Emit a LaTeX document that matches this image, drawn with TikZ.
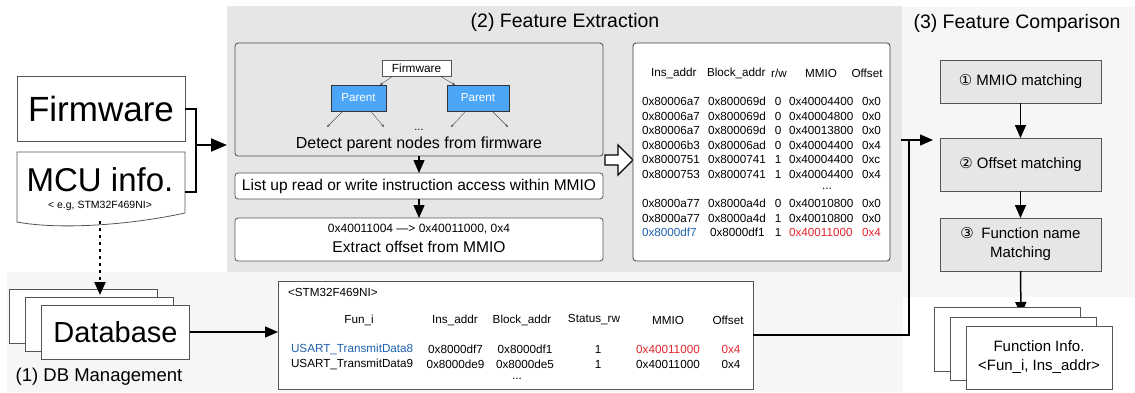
\documentclass[tikz,border=0pt]{standalone}
\usepackage{fontspec}
\setmainfont{Liberation Sans}
\newfontfamily\symfont{DejaVu Sans}
\usetikzlibrary{arrows.meta,calc}
\definecolor{feGray}{HTML}{E6E6E6}
\definecolor{lightBg}{HTML}{F6F6F6}
\definecolor{parentBlue}{HTML}{4CA6F7}
\definecolor{txtBlue}{HTML}{1F62AD}
\definecolor{txtRed}{HTML}{E3262D}
\definecolor{edgeGray}{HTML}{555555}
\newcommand\fsz[2]{\fontsize{#1}{#2}\selectfont}
\begin{document}
\begin{tikzpicture}[x=1pt,y=-1pt,
  region/.style={draw=none,inner sep=0,outer sep=0},
  box/.style={draw=edgeGray,line width=0.8pt,inner sep=0,outer sep=0},
  txt/.style={inner sep=0,outer sep=0},
  bigarrow/.style={line width=2pt,-{Triangle[length=16pt,width=13pt]}},
  midarrow/.style={line width=1.5pt,-{Triangle[length=13pt,width=11pt]}},
  tinyarrow/.style={line width=0.4pt,draw=black!70,-{Stealth[length=3pt,width=2.5pt]}},
  cell/.style={inner sep=0,outer sep=0,font=\fsz{11.7}{13}}]
\useasboundingbox (0,0) rectangle (1135,392);
% regions
\node[region,fill=lightBg,minimum width=896,minimum height=120] (dbr) at (455,332) {};
\node[region,fill=lightBg,minimum width=233,minimum height=290] (fcr) at (1018.5,152) {};
\node[region,fill=feGray,minimum width=675,minimum height=266] (fer) at (564.5,139) {};
% titles
\node[txt] (t2) at (565,22) {\fsz{19.5}{22}(2) Feature Extraction};
\node[txt] (t3) at (1017,23) {\fsz{19.5}{22}(3) Feature Comparison};
\node[txt] (t1) at (99,377) {\fsz{18.5}{21}(1) DB Management};
% left inputs
\node[box,fill=white,minimum width=168,minimum height=65] (fw) at (101,108.5) {\fsz{35}{40}Firmware};
\draw[draw=edgeGray,line width=0.8pt,fill=white] (17,152) -- (185,152) -- (185,213) .. controls (130,225) and (60,230) .. (17,222) -- cycle;
\node[txt] (mcu) at (100,180) {\fsz{33}{38}MCU info.};
\node[txt] (mcueg) at (100,206) {\fsz{10.5}{12}< e.g, STM32F469NI>};
\coordinate (mcuR) at (185,192);
\coordinate (brk) at (196,145);
\draw[line width=2pt,line join=miter] (fw.east) -| (brk) |- (mcuR);
\draw[bigarrow] (brk) -- (fer.west |- brk);
% database stack
\node[box,fill=white,minimum width=148,minimum height=54] (db3) at (83,316) {};
\node[box,fill=white,minimum width=148,minimum height=54] (db2) at (99.5,324) {};
\node[box,fill=white,minimum width=148,minimum height=54] (db1) at (115.5,332) {\fsz{29}{34}Database};
\coordinate (mcuB) at (100,221);
\coordinate (dbTip) at (100,295);
\draw[line width=2pt,dash pattern=on 3pt off 4pt,-{Triangle[length=13pt,width=11pt]}] (mcuB) -- (dbTip);
% DB table
\node[box,fill=white,minimum width=475,minimum height=108] (dbt) at (515.5,335) {};
\draw[midarrow] (db1.east) -- (dbt.west |- db1.east);
\node[cell,anchor=west] (dbtitle) at (288,292) {<STM32F469NI>};
\node[cell] (h1) at (359,320) {Fun\_i};
\node[cell] (h2) at (455,320) {Ins\_addr};
\node[cell] (h3) at (522,320) {Block\_addr};
\node[cell] (h4) at (594,320) {Status\_rw};
\node[cell] (h5) at (668,320) {MMIO};
\node[cell] (h6) at (728,320) {Offset};
\node[cell,anchor=west,text=txtBlue] (r1a) at (291,349) {USART\_TransmitData8};
\node[cell] (r1b) at (455.5,349) {0x8000df7};
\node[cell] (r1c) at (525,349) {0x8000df1};
\node[cell] (r1d) at (598,349) {1};
\node[cell,text=txtRed] (r1e) at (668,349) {0x40011000};
\node[cell,text=txtRed] (r1f) at (731,349) {0x4};
\node[cell,anchor=west] (r2a) at (291,364) {USART\_TransmitData9};
\node[cell] (r2b) at (455.5,364) {0x8000de9};
\node[cell] (r2c) at (525,364) {0x8000de5};
\node[cell] (r2d) at (598,364) {1};
\node[cell] (r2e) at (668,364) {0x40011000};
\node[cell] (r2f) at (731,364) {0x4};
\node[cell] (dbdots) at (517,379) {...};
% feature extraction boxes
\node[box,draw=black!70,fill=feGray,rounded corners=3pt,minimum width=368,minimum height=113] (b1) at (419,99.5) {};
\node[box,fill=white,minimum width=69,minimum height=16] (fws) at (416.5,68) {\fsz{11.8}{13}Firmware};
\node[box,draw=black!80,fill=parentBlue,text=white,minimum width=55,minimum height=26] (pl) at (358.5,98) {\fsz{11.6}{13}Parent};
\node[box,draw=black!80,fill=parentBlue,text=white,minimum width=62,minimum height=26] (pr) at (478,98) {\fsz{11.6}{13}Parent};
\draw[tinyarrow] ([xshift=-23.5pt]fws.south) -- ([xshift=21.5pt]pl.north);
\draw[tinyarrow] ([xshift=23.5pt]fws.south) -- ([xshift=-23pt]pr.north);
\coordinate (k1) at (327,127);
\coordinate (k2) at (384,127);
\coordinate (k3) at (451,127);
\coordinate (k4) at (508,127);
\draw[tinyarrow] ([xshift=-15.5pt]pl.south) -- (k1);
\draw[tinyarrow] ([xshift=12pt]pl.south) -- (k2);
\draw[tinyarrow] ([xshift=-12pt]pr.south) -- (k3);
\draw[tinyarrow] ([xshift=14pt]pr.south) -- (k4);
\node[txt] (dots1) at (419,130) {\fsz{11}{12}...};
\node[txt] (det) at (419,144) {\fsz{16}{18}Detect parent nodes from firmware};
\node[box,fill=white,rounded corners=3pt,minimum width=368,minimum height=26] (b2) at (419,186) {\fsz{15.5}{17}List up read or write instruction access within MMIO};
\node[box,fill=white,rounded corners=3pt,minimum width=368,minimum height=43] (b3) at (419,239.5) {};
\node[txt] (b3a) at (419,229) {\fsz{12}{14}0x40011004 —> 0x40011000, 0x4};
\node[txt] (b3b) at (419,247) {\fsz{15.6}{18}Extract offset from MMIO};
\draw[midarrow] (b1.south) -- (b2.north);
\draw[midarrow] (b2.south) -- (b3.north);
% hollow arrow
\draw[line width=1.3pt,fill=white,line join=miter] (605,155) -- (618,155) -- (618,145) -- (633,160) -- (618,175) -- (618,165) -- (605,165) -- cycle;
% feature table
\node[box,draw=black!75,fill=white,rounded corners=3pt,minimum width=257,minimum height=218] (tb) at (761.5,152) {};
\node[cell,anchor=west] (fh1) at (651,73) {Ins\_addr};
\node[cell,anchor=west] (fh2) at (707,73) {Block\_addr};
\node[cell] (fh3) at (779,73) {r/w};
\node[cell] (fh4) at (821,73) {MMIO};
\node[cell] (fh5) at (867,73) {Offset};
\foreach \i/\y/\a/\b/\c/\d/\e in {
  1/101.7/0x80006a7/0x800069d/0/0x40004400/0x0,
  2/116.2/0x80006a7/0x800069d/0/0x40004800/0x0,
  3/130.7/0x80006a7/0x800069d/0/0x40013800/0x0,
  4/145.3/0x80006b3/0x80006ad/0/0x40004400/0x4,
  5/159.9/0x8000751/0x8000741/1/0x40004400/0xc,
  6/174.4/0x8000753/0x8000741/1/0x40004400/0x4,
  7/203.7/0x8000a77/0x8000a4d/0/0x40010800/0x0,
  8/218.2/0x8000a77/0x8000a4d/1/0x40010800/0x0}{
  \node[cell,anchor=west] (f\i a) at (642,\y) {\a};
  \node[cell,anchor=west] (f\i b) at (708,\y) {\b};
  \node[cell] (f\i c) at (778,\y) {\c};
  \node[cell,anchor=west] (f\i d) at (789,\y) {\d};
  \node[cell,anchor=west] (f\i e) at (862,\y) {\e};
}
\node[cell] (fdots) at (827,189) {...};
\node[cell,anchor=west,text=txtBlue] (f9a) at (642,232.7) {0x8000df7};
\node[cell,anchor=west] (f9b) at (710,232.7) {0x8000df1};
\node[cell] (f9c) at (778,232.7) {1};
\node[cell,anchor=west,text=txtRed] (f9d) at (789,232.7) {0x40011000};
\node[cell,anchor=west,text=txtRed] (f9e) at (862,232.7) {0x4};
% feature comparison
\node[box,fill=feGray,minimum width=161,minimum height=43,font=\fsz{15}{18}] (m1) at (1020.5,81.5) {{\symfont ①} MMIO matching};
\node[box,fill=feGray,minimum width=161,minimum height=53,font=\fsz{15}{18}] (m2) at (1020.5,164.5) {{\symfont ②} Offset matching};
\node[box,fill=feGray,minimum width=161,minimum height=53,align=center,font=\fsz{15}{19}] (m3) at (1020.5,244.5) {{\symfont ③}\enspace Function name\\Matching};
\draw[midarrow] (m1.south) -- (m2.north);
\draw[midarrow] (m2.south) -- (m3.north);
\coordinate (fiTip) at (1021,315);
\draw[midarrow] (m3.south) -- (fiTip);
\node[box,fill=white,minimum width=146,minimum height=64] (fi3) at (1007,339) {};
\node[box,fill=white,minimum width=146,minimum height=63] (fi2) at (1023,348.5) {};
\node[box,fill=white,minimum width=146,minimum height=63,align=center,font=\fsz{15}{19}] (fi1) at (1039,357.5) {Function Info.\\<Fun\_i, Ins\_addr>};
% connector from DB table to comparison
\coordinate (jx) at (909,140);
\coordinate (stub) at (901,140);
\coordinate (fcTip) at (933,140);
\draw[line width=1.5pt,line join=miter] (dbt.east) -| (jx);
\draw[midarrow] (stub) -- (fcTip);
\end{tikzpicture}
\end{document}
